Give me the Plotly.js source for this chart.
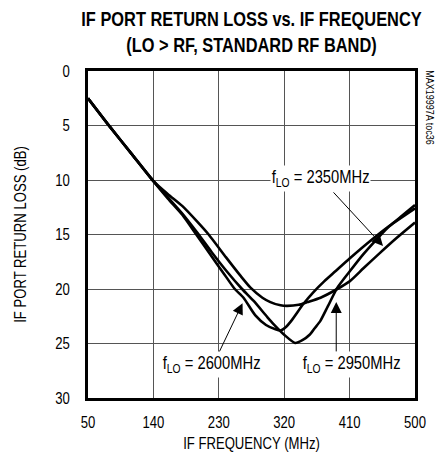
<!DOCTYPE html>
<html><head><meta charset="utf-8">
<script src="https://cdn.plot.ly/plotly-3.0.1.min.js"></script>
<style>html,body{margin:0;padding:0;background:#fff}#chart{width:438px;height:454px}</style>
</head><body><div id="chart"></div>
<script>
const xTicks = [50, 140, 230, 320, 410, 500];
const yTicks = [0, 5, 10, 15, 20, 25, 30];

// fLO = 2350MHz (shallow minimum)
const freqA = [50, 80, 110, 140, 160, 180, 200, 216, 240, 260, 274, 290, 301, 315, 324, 340, 352, 370, 393, 410, 429, 450, 475, 500];
const lossA = [2.5, 5.1, 7.6, 10.1, 11.3, 12.4, 13.8, 15.0, 17.1, 18.8, 19.9, 20.8, 21.2, 21.5, 21.55, 21.45, 21.2, 20.8, 20.0, 19.3, 18.1, 16.8, 15.3, 13.9];

// fLO = 2600MHz (middle minimum)
const freqB = [50, 80, 110, 140, 160, 180, 199, 220, 236, 252, 264, 280, 295, 308, 315, 322, 330, 346, 360, 375, 390, 410, 440, 465, 500];
const lossB = [2.5, 5.1, 7.6, 10.1, 11.7, 13.2, 15.0, 17.0, 18.5, 20.0, 20.8, 22.4, 23.3, 23.7, 23.8, 23.5, 22.9, 21.4, 20.3, 19.3, 18.4, 17.2, 15.5, 14.2, 12.6];

// fLO = 2950MHz (deepest minimum)
const freqC = [50, 80, 110, 140, 160, 180, 200, 220, 240, 262, 278, 297, 305, 320, 335, 345, 355, 362, 370, 380, 393, 410, 429, 445, 462, 480, 500];
const lossC = [2.5, 5.1, 7.6, 10.1, 11.6, 13.1, 14.8, 16.6, 18.3, 20.0, 21.1, 22.6, 23.2, 24.2, 24.95, 24.7, 24.2, 23.6, 22.9, 21.6, 19.9, 18.4, 16.8, 15.6, 14.4, 13.4, 12.3];

const seriesLabels = ['f<sub>LO</sub> = 2350MHz', 'f<sub>LO</sub> = 2600MHz', 'f<sub>LO</sub> = 2950MHz'];

const FONT = '"Liberation Sans", Arial, Helvetica, sans-serif';
const CONDENSE = 0.82;   // horizontal squeeze to mimic a narrow typeface
const lineStyle = {color: '#000', width: 2.6, shape: 'spline', smoothing: 0.6};

const traces = [
  {x: freqA, y: lossA, mode: 'lines', name: 'fLO = 2350MHz', line: lineStyle, hoverinfo: 'skip'},
  {x: freqB, y: lossB, mode: 'lines', name: 'fLO = 2600MHz', line: lineStyle, hoverinfo: 'skip'},
  {x: freqC, y: lossC, mode: 'lines', name: 'fLO = 2950MHz', line: lineStyle, hoverinfo: 'skip'}
];

const labelFont = {family: FONT, size: 18, color: '#000'};
const arrowStyle = {showarrow: true, text: '', arrowhead: 2, arrowsize: 2.2, arrowwidth: 1, arrowcolor: '#000', axref: 'x', ayref: 'y', standoff: 0, startstandoff: 0};

const layout = {
  width: 438, height: 454,
  margin: {l: 88, r: 23, t: 71, b: 56},
  paper_bgcolor: '#fff', plot_bgcolor: '#fff',
  showlegend: false,
  title: {
    text: '<b>IF PORT RETURN LOSS vs. IF FREQUENCY<br>(LO &gt; RF, STANDARD RF BAND)</b>',
    font: {family: FONT, size: 20, color: '#000'},
    x: 0.5, xref: 'paper', xanchor: 'center',
    y: 1 - 26 / 454, yref: 'container', yanchor: 'top'
  },
  xaxis: {
    range: [50, 500], tickvals: xTicks, ticktext: xTicks.map(String),
    ticks: '', showgrid: true, gridcolor: '#555', gridwidth: 1, zeroline: false,
    showline: true, linecolor: '#000', linewidth: 3, mirror: true,
    tickfont: {family: FONT, size: 16, color: '#000'},
    ticklabelstandoff: 8,
    title: {text: 'IF FREQUENCY (MHz)', font: {family: FONT, size: 16, color: '#000'}, standoff: 8}
  },
  yaxis: {
    range: [30, 0], tickvals: yTicks, ticktext: yTicks.map(String),
    ticks: '', showgrid: true, gridcolor: '#555', gridwidth: 1, zeroline: false,
    showline: true, linecolor: '#000', linewidth: 3, mirror: true,
    tickfont: {family: FONT, size: 16, color: '#000'},
    ticklabelstandoff: 12,
    title: {text: 'IF PORT RETURN LOSS (dB)', font: {family: FONT, size: 16, color: '#000'}, standoff: 22}
  },
  annotations: [
    Object.assign({x: 456, y: 16.05, ax: 386, ay: 11.0}, arrowStyle),
    Object.assign({x: 262.7, y: 21.3, ax: 229.7, ay: 25.9}, arrowStyle),
    Object.assign({x: 391.6, y: 21.2, ax: 391.6, ay: 25.9}, arrowStyle),
    {x: 369.7, y: 9.9, text: seriesLabels[0], showarrow: false, font: labelFont, bgcolor: '#fff', borderpad: 1},
    {x: 220, y: 26.9, text: seriesLabels[1], showarrow: false, font: labelFont, bgcolor: '#fff', borderpad: 1},
    {x: 412, y: 26.9, text: seriesLabels[2], showarrow: false, font: labelFont, bgcolor: '#fff', borderpad: 1},
    {x: 1.046, y: 0.89, xref: 'paper', yref: 'paper', xanchor: 'center', yanchor: 'middle',
     text: 'MAX19997A toc36', textangle: 90, showarrow: false,
     font: {family: FONT, size: 11, color: '#000'}}
  ]
};

function condense(gd, s) {
  gd.querySelectorAll('g.annotation-text-g').forEach(g => {
    const t = g.querySelector('text');
    if (!t || !t.textContent.trim()) return;
    const b = g.getBBox();
    const cx = b.x + b.width / 2, cy = b.y + b.height / 2;
    const tr = g.getAttribute('transform') || '';
    g.setAttribute('transform', tr + ' translate(' + cx + ',' + cy + ') scale(' + s + ',1) translate(' + (-cx) + ',' + (-cy) + ')');
  });
  gd.querySelectorAll('text').forEach(t => {
    if (t.closest('g.annotation')) return;
    if (!t.textContent.trim()) return;
    const x = parseFloat(t.getAttribute('x')) || 0;
    const y = parseFloat(t.getAttribute('y')) || 0;
    const tr = t.getAttribute('transform') || '';
    t.setAttribute('transform', tr + ' translate(' + x + ',' + y + ') scale(' + s + ',1) translate(' + (-x) + ',' + (-y) + ')');
  });
}

const gd = document.getElementById('chart');
Plotly.newPlot(gd, traces, layout, {displayModeBar: false, staticPlot: true}).then(() => condense(gd, CONDENSE));
</script>
</body></html>
